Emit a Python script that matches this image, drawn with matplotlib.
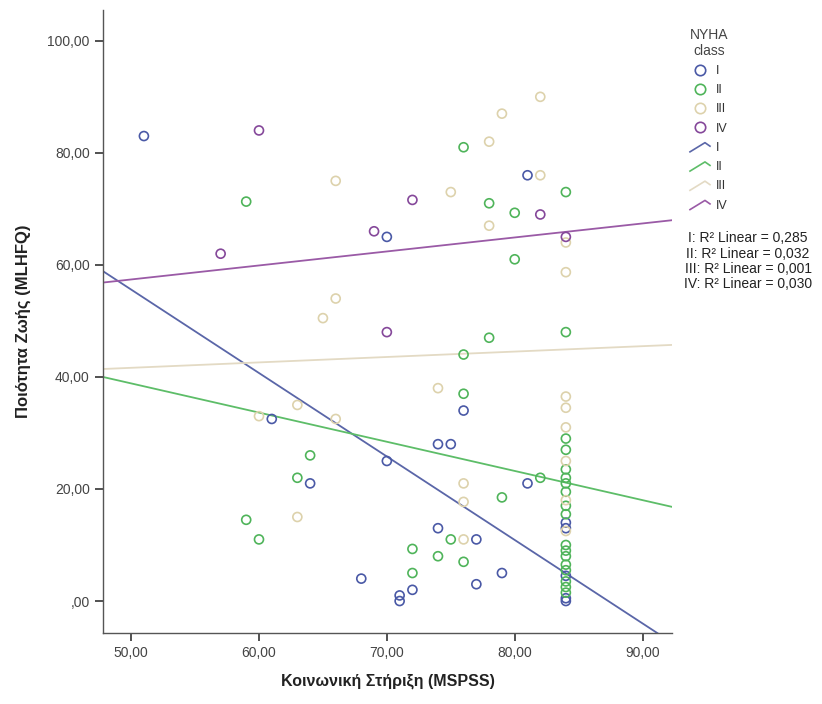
import numpy as np
import matplotlib
matplotlib.use("Agg")
import matplotlib.pyplot as plt
from matplotlib.lines import Line2D
from matplotlib.legend_handler import HandlerLine2D

plt.rcParams['font.family'] = ['Liberation Sans', 'DejaVu Sans']

# Δεδομένα ανά κατηγορία NYHA (τιμές εκτιμημένες από την εικόνα)
classes = ["I", "II", "III", "IV"]

x_I = [51, 70, 61, 70, 64, 68, 76, 74, 75, 81, 74, 77, 79, 77, 72, 71, 71, 81,
       84, 84, 84, 84, 84]
y_I = [83, 65, 32.5, 25, 21, 4, 34, 28, 28, 76, 13, 11, 5, 3, 2, 1, 0, 21,
       14, 13, 4.5, 0.5, 0]

x_II = [59, 76, 84, 78, 80, 80, 78, 84, 76, 76, 64, 63, 59, 60, 82, 79, 75, 72,
        74, 76, 72,
        84, 84, 84, 84, 84, 84, 84, 84, 84, 84, 84, 84, 84, 84, 84, 84]
y_II = [71.3, 81, 73, 71, 69.3, 61, 47, 48, 44, 37, 26, 22, 14.5, 11, 22, 18.5, 11, 9.3,
        8, 7, 5,
        29, 27, 23.5, 22, 21, 19.5, 17, 15.5, 10, 9, 8, 6.5, 5.5, 3.5, 2.5, 1.5]

x_III = [66, 82, 79, 78, 82, 75, 78, 84, 84, 66, 65, 63, 60, 66, 74, 76, 76, 63, 76,
         84, 84, 84, 84, 84, 84]
y_III = [75, 90, 87, 82, 76, 73, 67, 64, 58.7, 54, 50.5, 35, 33, 32.5, 38, 21, 17.7, 15, 11,
         36.5, 34.5, 31, 25, 18, 12.5]

x_IV = [60, 72, 69, 57, 82, 84, 70]
y_IV = [84, 71.6, 66, 62, 69, 65, 48]

# Γραμμές παλινδρόμησης (κλίση, σταθερά) και R²
fit_slope = [-1.49, -0.521, 0.0966, 0.25]
fit_intercept = [130.1, 64.9, 36.8, 44.9]
r2_labels = ["0,285", "0,032", "0,001", "0,030"]

x_ticks = [50, 60, 70, 80, 90]
y_ticks = [0, 20, 40, 60, 80, 100]

marker_colors = ["#4a59a6", "#4fb45a", "#ddd2ac", "#85489a"]
line_colors = ["#5a66a8", "#5dbd68", "#e3dac4", "#9a5aa6"]

xs = [x_I, x_II, x_III, x_IV]
ys = [y_I, y_II, y_III, y_IV]

fig = plt.figure(figsize=(8.22, 7.04), dpi=100)
ax = fig.add_axes([0.1253, 0.1009, 0.6922, 0.8849])

xmin, xmax = 47.8, 92.3
ymin, ymax = -5.7, 105.5

for xv, yv, c in zip(xs, ys, marker_colors):
    ax.scatter(xv, yv, s=42, facecolors="none", edgecolors=c, linewidths=1.2, zorder=3)

xx = np.array([xmin, xmax])
for k, c, lc in zip(fit_slope, fit_intercept, line_colors):
    ax.plot(xx, c + k * xx, color=lc, lw=1.3, zorder=2)

ax.set_xlim(xmin, xmax)
ax.set_ylim(ymin, ymax)
ax.set_xticks(x_ticks)
ax.set_yticks(y_ticks)
ax.set_xticklabels([f"{v:.2f}".replace(".", ",") for v in x_ticks])
ax.set_yticklabels([",00" if v == 0 else f"{v:.2f}".replace(".", ",") for v in y_ticks])
ax.tick_params(direction="out", length=6, width=1.2, color="#333333",
               labelsize=10, labelcolor="#444444")
for s in ["top", "right"]:
    ax.spines[s].set_visible(False)
for s in ["left", "bottom"]:
    ax.spines[s].set_color("#555555")
    ax.spines[s].set_linewidth(1.0)

ax.set_xlabel("Κοινωνική Στήριξη (MSPSS)", fontsize=11.5, fontweight="bold",
              color="#222222", labelpad=10)
ax.set_ylabel("Ποιότητα Ζωής (MLHFQ)", fontsize=12, fontweight="bold",
              color="#222222", labelpad=12)


class SlantHandler(HandlerLine2D):
    def create_artists(self, legend, orig_handle, xdescent, ydescent,
                       width, height, fontsize, trans):
        x0, y0 = -xdescent, -ydescent
        ln = Line2D([x0, x0 + 0.75 * width, x0 + width],
                    [y0 - 0.1 * height, y0 + 0.95 * height, y0 + 0.55 * height],
                    color=orig_handle.get_color(), lw=1.2, transform=trans)
        return [ln]


handles = []
labels = []
for c, name in zip(marker_colors, classes):
    handles.append(Line2D([], [], ls="none", marker="o", markersize=7.5,
                          markerfacecolor="none", markeredgecolor=c, markeredgewidth=1.2))
    labels.append(name)
line_handles = []
for c, name in zip(line_colors, classes):
    h = Line2D([], [], color=c, lw=1.2)
    handles.append(h)
    line_handles.append(h)
    labels.append(name)

leg = fig.legend(handles, labels, title="NYHA\nclass", loc="upper left",
                 bbox_to_anchor=(0.833, 0.968), frameon=False, fontsize=9,
                 title_fontsize=10, handlelength=1.6, handletextpad=0.5,
                 labelspacing=0.58, borderaxespad=0,
                 handler_map={h: SlantHandler() for h in line_handles})
for t in leg.get_texts():
    t.set_color("#333333")
leg.get_title().set_color("#444444")
leg.get_title().set_multialignment("center")

r2_y = [238, 253.5, 269, 284.5]
for name, r2, yp in zip(classes, r2_labels, r2_y):
    fig.text(748 / 822, 1 - yp / 704, f"{name}: R² Linear = {r2}", ha="center",
             va="center", fontsize=10, color="#222222")

fig.savefig("out.png", dpi=100)
